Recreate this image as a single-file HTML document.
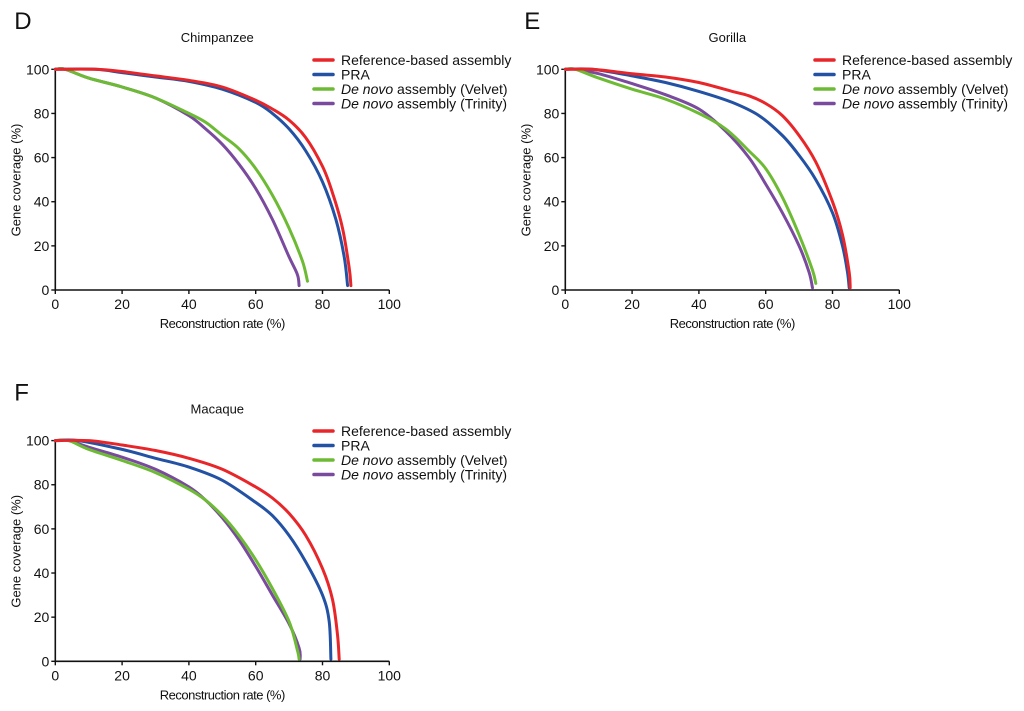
<!DOCTYPE html>
<html><head><meta charset="utf-8">
<style>
html,body{margin:0;padding:0;background:#fff;}
svg{display:block;font-family:"Liberation Sans",Arial,sans-serif;}
</style></head>
<body>
<svg id="fig" width="1024" height="711" viewBox="0 0 1024 711" xmlns="http://www.w3.org/2000/svg"></svg>
<script>
// ---- data (x = reconstruction rate %, y = gene coverage %) ----
const seriesNames = ["Reference-based assembly","PRA","De novo assembly (Velvet)","De novo assembly (Trinity)"];
const seriesColors = ["#e8262a","#2351a3","#6dbb34","#7a4a9e"];
const xTicks = [0,20,40,60,80,100];
const yTicks = [0,20,40,60,80,100];

const chimpRefX = [0,12,20,30,40,50,60,65,70,75,80,83,86,88,88.5];
const chimpRefY = [100,100,99,97,95,92,86,82,77,69,56,44,28,10,2];
const chimpPraX = [0,12,20,30,40,50,60,65,70,75,80,84,86.5,87.5];
const chimpPraY = [100,100,98.5,96.5,94.5,91,85,80,73,63,49,32,15,2];
const chimpVelX = [0,3,10,20,30,40,45,50,55,60,65,70,74,75.5];
const chimpVelY = [100,100,96,92,87,80,76,70,64,55,43,28,13,4];
const chimpTriX = [0,3,10,20,30,40,45,50,55,60,65,70,72.5,73];
const chimpTriY = [100,100,96,92,87,79,73,66,57,46,32,15,7,2];

const gorRefX = [0,8,20,30,40,50,55,60,65,70,75,80,83,85,85.3];
const gorRefY = [100,100,98,96.5,94,90,88,84.5,79,70,58,40,25,8,1];
const gorPraX = [0,8,20,30,40,50,58,65,70,75,80,83,84.5,85];
const gorPraY = [100,100,97,94,90,85,79,70,61,50,35,20,8,1];
const gorVelX = [0,3,10,20,30,40,48,55,60,65,70,74,75];
const gorVelY = [100,100,96,91,86.5,80,73,63,55,42,25,9,3];
const gorTriX = [0,3,10,20,30,40,48,55,60,65,70,73,74];
const gorTriY = [100,100,98,93.5,88.5,82,72,60,48,35,20,8,1];

const macRefX = [0,10,20,30,40,50,60,65,70,75,80,83,84.5,85];
const macRefY = [100,100,98,95.5,92,87,79,74,67,57,42,28,12,1];
const macPraX = [0,7,20,30,40,50,60,65,70,75,80,82,82.5];
const macPraY = [100,100,96,92,88,82,72,66,57,45,30,18,1];
const macVelX = [0,4,10,20,30,40,45,50,55,60,65,70,72.5,73];
const macVelY = [100,100,96,91,85.5,78,73,66,57,46,33,18,5,1];
const macTriX = [0,4,10,20,30,40,45,50,55,60,65,70,73,73.3];
const macTriY = [100,100,97,92.5,87,79,73,65,55,43,30,17,6,1];

const panels = [
  {id:"chimpanzee", letter:"D", title:"Chimpanzee", ox:55.3, oy:290, w:334, h:220.7, lx:314, ly:60,
   xs:[chimpRefX,chimpPraX,chimpVelX,chimpTriX], ys:[chimpRefY,chimpPraY,chimpVelY,chimpTriY]},
  {id:"gorilla", letter:"E", title:"Gorilla", ox:565.3, oy:290, w:334, h:220.7, lx:815, ly:60,
   xs:[gorRefX,gorPraX,gorVelX,gorTriX], ys:[gorRefY,gorPraY,gorVelY,gorTriY]},
  {id:"macaque", letter:"F", title:"Macaque", ox:55.3, oy:661.3, w:334, h:220.7, lx:314, ly:431,
   xs:[macRefX,macPraX,macVelX,macTriX], ys:[macRefY,macPraY,macVelY,macTriY]}
];

const NS="http://www.w3.org/2000/svg";
const svg=document.getElementById("fig");
function mk(tag,attrs,parent){const e=document.createElementNS(NS,tag);for(const k in attrs)e.setAttribute(k,attrs[k]);(parent||svg).appendChild(e);return e;}
function smooth(pts){
  let d="M"+pts[0][0].toFixed(1)+" "+pts[0][1].toFixed(1);
  for(let i=0;i<pts.length-1;i++){
    const p0=pts[Math.max(0,i-1)],p1=pts[i],p2=pts[i+1],p3=pts[Math.min(pts.length-1,i+2)];
    const c1=[p1[0]+(p2[0]-p0[0])/6,p1[1]+(p2[1]-p0[1])/6];
    const c2=[p2[0]-(p3[0]-p1[0])/6,p2[1]-(p3[1]-p1[1])/6];
    d+=`C${c1[0].toFixed(1)} ${c1[1].toFixed(1)} ${c2[0].toFixed(1)} ${c2[1].toFixed(1)} ${p2[0].toFixed(1)} ${p2[1].toFixed(1)}`;
  }
  return d;
}

panels.forEach(p=>{
  const g=mk("g",{});
  
  
  const sx=v=>p.ox+v/100*p.w;
  const sy=v=>p.oy-v/100*p.h;
  const L=mk("text",{x:p.ox-41,y:p.oy-261,"font-size":24,fill:"#111"},g);L.textContent=p.letter;
  
  
  const T=mk("text",{x:p.ox+162,y:p.oy-248,"font-size":13,"text-anchor":"middle",fill:"#111"},g);T.textContent=p.title;
  
  
  const ax=mk("path",{d:`M${p.ox} ${sy(100)}V${p.oy}H${sx(100)}`,stroke:"#111","stroke-width":1.6,fill:"none"},g);
  
  
  xTicks.forEach(t=>{
    mk("line",{x1:sx(t),x2:sx(t),y1:p.oy,y2:p.oy+4,stroke:"#111","stroke-width":1.4},g);
    const tx=mk("text",{x:sx(t),y:p.oy+19,"font-size":14,"text-anchor":"middle",fill:"#111"},g);tx.textContent=t;
    
    
  });
  yTicks.forEach(t=>{
    mk("line",{x1:p.ox-4,x2:p.ox,y1:sy(t),y2:sy(t),stroke:"#111","stroke-width":1.4},g);
    const ty=mk("text",{x:p.ox-6,y:sy(t)+5,"font-size":14,"text-anchor":"end",fill:"#111"},g);ty.textContent=t;
    
    
  });
  const xt=mk("text",{x:p.ox+167,y:p.oy+38,"font-size":13,"text-anchor":"middle",fill:"#111","letter-spacing":"-0.5"},g);xt.textContent="Reconstruction rate (%)";
  
  
  const yt=mk("text",{x:0,y:0,"font-size":13,"text-anchor":"middle",fill:"#111",transform:`translate(${p.ox-35},${p.oy-110}) rotate(-90)`},g);yt.textContent="Gene coverage (%)";
  
  
  [3,2,1,0].forEach(i=>{
    const pts=p.xs[i].map((x,j)=>[sx(x),sy(p.ys[i][j])]);
    const path=mk("path",{d:smooth(pts),stroke:seriesColors[i],"stroke-width":3,fill:"none","stroke-linejoin":"round","stroke-linecap":"round"},g);
    
    
  });
  seriesNames.forEach((n,i)=>{
    const y=p.ly+i*14.5;
    const lg=mk("g",{},g);
    
    
    mk("line",{x1:p.lx,x2:p.lx+19,y1:y,y2:y,stroke:seriesColors[i],"stroke-width":3.5,"stroke-linecap":"round"},lg);
    const t=mk("text",{x:p.lx+27,y:y+5,"font-size":14,fill:"#111"},lg);
    if(i>=2){
      const a=mk("tspan",{"font-style":"italic"},t);a.textContent="De novo";
      const b=mk("tspan",{},t);b.textContent=n.replace("De novo","");
    } else t.textContent=n;
  });
});
</script>
</body></html>
